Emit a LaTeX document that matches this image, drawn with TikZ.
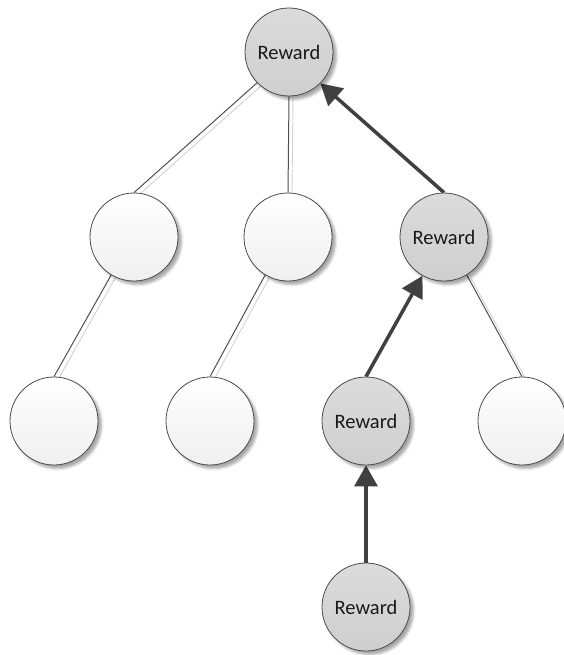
\documentclass[tikz,border=0pt]{standalone}
\usepackage{fontspec}
\setmainfont{Carlito}
\usetikzlibrary{arrows.meta,shadows.blur}
\definecolor{edgegray}{HTML}{4A4A4A}
\definecolor{arrowgray}{HTML}{404040}
\definecolor{linegray}{HTML}{505050}
\definecolor{lineshade}{HTML}{D2D2D2}
\pgfdeclarelayer{background}
\pgfsetlayers{background,main}
\tikzset{
  treenode/.style={circle, draw=edgegray, line width=0.8pt, minimum size=88pt,
    inner sep=0pt, font=\fontsize{20.5}{23}\selectfont, text=black!90,
    blur shadow={shadow xshift=3.5pt, shadow yshift=-3.5pt,
      shadow blur radius=2.5pt, shadow opacity=35}},
  rewardnode/.style={treenode, top color=gray!28, bottom color=gray!38},
  plainnode/.style={treenode, top color=white, bottom color=gray!12},
  branch/.style={draw=linegray, line width=1pt},
  branchshade/.style={draw=lineshade, line width=0.9pt},
  backprop/.style={draw=arrowgray, line width=3.5pt,
    -{Triangle[length=21pt, width=23pt]}}
}
\begin{document}
\begin{tikzpicture}[x=1pt, y=-1pt]
\useasboundingbox (0,0) rectangle (564,655);

% tree nodes
\node[rewardnode] (root) at (289,52) {Reward};
\node[plainnode]  (a)  at (134,237) {};
\node[plainnode]  (b)  at (288,237) {};
\node[rewardnode] (c)  at (444,237) {Reward};
\node[plainnode]  (a1) at (54,421) {};
\node[plainnode]  (b1) at (210,421) {};
\node[rewardnode] (c1) at (366,421) {Reward};
\node[plainnode]  (c2) at (522,421) {};
\node[rewardnode] (d)  at (366,607) {Reward};

\begin{pgfonlayer}{background}
  % faint offset copies of the plain branches
  \draw[branchshade] ([shift={(4,3)}]root.-136) -- ([shift={(4,3)}]a.north);
  \draw[branchshade] ([shift={(4,0)}]root.south) -- ([shift={(4,0)}]b.north);
  \draw[branchshade] ([shift={(4,3)}]a.-121) -- ([shift={(4,3)}]a1.north);
  \draw[branchshade] ([shift={(4,3)}]b.-121) -- ([shift={(4,3)}]b1.north);
  \draw[branchshade] ([shift={(4,3)}]c.-59) -- ([shift={(4,3)}]c2.north);
  % plain branches
  \draw[branch] (root.-136) -- (a.north);
  \draw[branch] (root.south) -- (b.north);
  \draw[branch] (a.-121) -- (a1.north);
  \draw[branch] (b.-121) -- (b1.north);
  \draw[branch] (c.-59) -- (c2.north);
  % reward propagated back up the path
  \draw[backprop] (c.north) -- (root.-45);
  \draw[backprop] (c1.north) -- (c.-119);
  \draw[backprop] (d.north) -- (c1.south);
\end{pgfonlayer}
\end{tikzpicture}
\end{document}
